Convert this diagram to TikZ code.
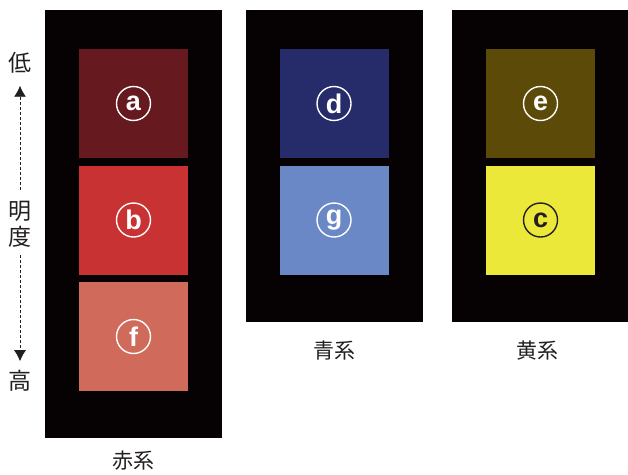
\documentclass[tikz,border=0pt]{standalone}
\usepackage{fontspec}
\setmainfont{Liberation Sans}
\newfontfamily\jpfont{Noto Sans CJK JP}
\usetikzlibrary{positioning,arrows.meta}

\definecolor{panelblack}{HTML}{060203}
\definecolor{inkgray}{HTML}{231F20}
\definecolor{redA}{HTML}{661A1F}
\definecolor{redB}{HTML}{C83232}
\definecolor{redF}{HTML}{D06A5A}
\definecolor{blueD}{HTML}{262C6A}
\definecolor{blueG}{HTML}{6A88C6}
\definecolor{yelE}{HTML}{5C4A08}
\definecolor{yelC}{HTML}{EBE83A}

\tikzset{
  panel/.style={fill=panelblack, inner sep=0, anchor=north west},
  swatch/.style={minimum size=109pt, inner sep=0},
  badge/.style={circle, draw=#1, text=#1, line width=1.4pt, minimum size=34pt, inner sep=0,
    font=\fontsize{27}{27}\selectfont\bfseries},
  caption/.style={font=\jpfont\fontsize{21}{21}\selectfont, text=inkgray, inner sep=0},
  axis/.style={font=\jpfont\fontsize{23}{26}\selectfont, text=inkgray, inner sep=0, align=center},
  scalearrow/.style={draw=inkgray, line width=0.9pt, dash pattern=on 3pt off 2pt,
    -{Latex[length=11pt,width=12pt]}}
}

\begin{document}
\begin{tikzpicture}[x=1pt,y=-1pt]
  \useasboundingbox (0,0) rectangle (628,474);

  % black panels
  \node[panel, minimum width=177pt, minimum height=428pt] (red) at (45,10) {};
  \node[panel, minimum width=177pt, minimum height=312pt] (blue) at (246,10) {};
  \node[panel, minimum width=176pt, minimum height=312pt] (yellow) at (452,10) {};

  % colour samples with their letters
  \foreach \n/\x/\y/\col/\ink in {a/133.5/103.5/redA/white, b/133.5/220/redB/white,
      f/133.5/336.5/redF/white, d/334/103.5/blueD/white, g/334/220/blueG/white,
      e/540.5/103.5/yelE/white, c/540.5/220/yelC/inkgray}{
    \node[swatch, fill=\col] (sq\n) at (\x,\y) {};
    \node[badge=\ink] (\n) at (sq\n) {\n};
  }

  % captions
  \node[caption, below=12pt of red] (redlabel) {赤系};
  \node[caption, below=18pt of blue] (bluelabel) {青系};
  \node[caption, below=18pt of yellow, xshift=-3pt] (yellowlabel) {黄系};

  % lightness scale
  \node[axis] (low) at (20,63) {低};
  \node[axis] (mid) at (20,224) {明\\度};
  \node[axis] (high) at (20,381) {高};
  \draw[scalearrow, shorten <=11pt, shorten >=12pt] (mid) -- (low);
  \draw[scalearrow, shorten <=8pt, shorten >=9pt] (mid) -- (high);
\end{tikzpicture}
\end{document}
